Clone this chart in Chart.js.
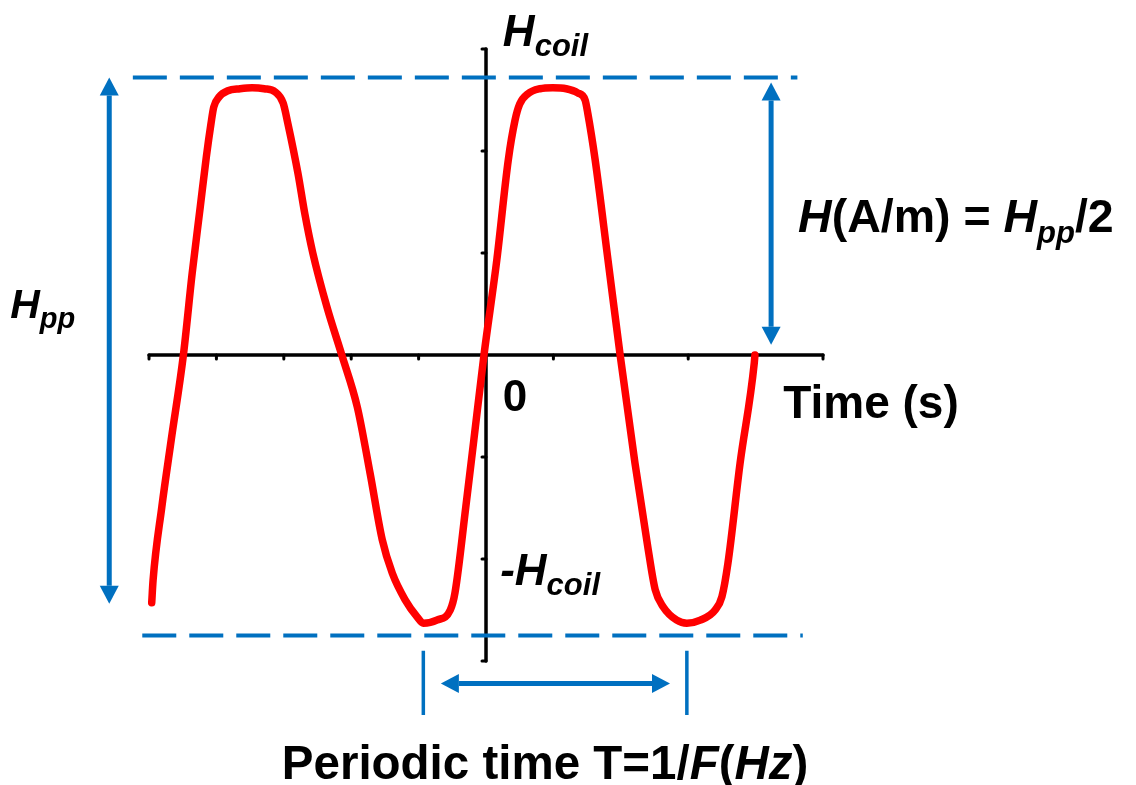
<!DOCTYPE html>
<html>
<head>
<meta charset="utf-8">
<title>Coil field waveform</title>
<script src="https://cdn.jsdelivr.net/npm/chart.js@4.4.1/dist/chart.umd.min.js"></script>
<style>
  html, body { margin: 0; padding: 0; background: #ffffff; }
  #wrap { width: 1136px; height: 785px; position: relative; }
</style>
</head>
<body>
<div id="wrap"><canvas id="chart"></canvas></div>
<script>
// time in tick units (one tick = one unit), field in tick units
const timeValues = [
  -4.96, -4.94, -4.81, -4.67, -4.49, -4.36, -4.24, -4.15, -4.08,
  -4.04, -3.96, -3.83, -3.65, -3.47, -3.29, -3.13, -3.01, -2.94, -2.79,
  -2.69, -2.57, -2.36, -2.14, -1.91, -1.72, -1.54, -1.39, -1.20, -1.02,
  -0.93, -0.73, -0.53, -0.46, -0.30, -0.18, -0.03, 0.16, 0.33,
  0.43, 0.50, 0.62, 0.80, 0.99, 1.19, 1.36, 1.47, 1.51, 1.62,
  1.81, 1.99, 2.21, 2.40, 2.51, 2.63, 2.83, 2.98, 3.18, 3.40,
  3.50, 3.59, 3.77, 3.98, 3.99
];
const fieldValues = [
  -2.43, -2.21, -1.49, -0.83, 0.00, 0.80, 1.45, 1.94, 2.27,
  2.43, 2.53, 2.59, 2.61, 2.62, 2.61, 2.58, 2.47, 2.27, 1.78,
  1.39, 1.00, 0.47, 0.00, -0.51, -1.16, -1.81, -2.14, -2.40, -2.57,
  -2.63, -2.60, -2.50, -2.33, -1.49, -0.83, 0.00, 0.93, 1.91,
  2.30, 2.46, 2.56, 2.61, 2.62, 2.61, 2.57, 2.50, 2.37, 1.91,
  0.93, 0.00, -1.06, -1.88, -2.30, -2.47, -2.60, -2.63, -2.60, -2.50,
  -2.37, -2.04, -1.06, -0.08, 0.00
];

const xTicks = [-5, -4, -3, -2, -1, 0, 1, 2, 3, 4, 5];
const yTicks = [-3, -2, -1, 0, 1, 2, 3];
const hppLevels = [2.72, -2.75];       // peak-to-peak guide lines
const periodMarks = [-0.93, 2.98];     // one period, trough to trough

const yTopLabel = 'H|coil';
const yBottomLabel = '-H|coil';
const originLabel = '0';
const xTitle = 'Time (s)';

const BLUE = '#0070c0';
const FONT = '"Liberation Sans", Arial, Helvetica, sans-serif';

// draws text made of runs: {t, it, sub}
function drawRuns(ctx, x, y, runs, size, subSize, subShift) {
  let cx = x;
  ctx.textBaseline = 'alphabetic';
  ctx.textAlign = 'left';
  runs.forEach(r => {
    const fs = r.sub ? subSize : size;
    ctx.font = (r.it ? 'italic ' : '') + 'bold ' + fs + 'px ' + FONT;
    ctx.fillText(r.t, cx, y + (r.sub ? subShift : 0));
    cx += ctx.measureText(r.t).width;
  });
}

function splitLabel(s) {
  const p = s.split('|');
  return [{ t: p[0], it: true }, { t: p[1], it: true, sub: true }];
}

function arrow(ctx, x1, y1, x2, y2) {
  const ang = Math.atan2(y2 - y1, x2 - x1);
  const hl = 18, hw = 9.5;
  ctx.strokeStyle = BLUE;
  ctx.fillStyle = BLUE;
  ctx.lineWidth = 5;
  ctx.beginPath();
  ctx.moveTo(x1 + Math.cos(ang) * hl, y1 + Math.sin(ang) * hl);
  ctx.lineTo(x2 - Math.cos(ang) * hl, y2 - Math.sin(ang) * hl);
  ctx.stroke();
  [[x1, y1, ang + Math.PI], [x2, y2, ang]].forEach(([tx, ty, a]) => {
    ctx.beginPath();
    ctx.moveTo(tx, ty);
    ctx.lineTo(tx - Math.cos(a) * hl - Math.sin(a) * hw, ty - Math.sin(a) * hl + Math.cos(a) * hw);
    ctx.lineTo(tx - Math.cos(a) * hl + Math.sin(a) * hw, ty - Math.sin(a) * hl - Math.cos(a) * hw);
    ctx.closePath();
    ctx.fill();
  });
}

const axesPlugin = {
  id: 'axesPlugin',
  beforeDatasetsDraw(chart) {
    const ctx = chart.ctx;
    const xs = chart.scales.x, ys = chart.scales.y;
    const x0 = xs.getPixelForValue(0), y0 = ys.getPixelForValue(0);
    ctx.save();
    ctx.strokeStyle = '#000';
    ctx.lineCap = 'round';
    ctx.lineWidth = 3.5;
    ctx.beginPath();
    ctx.moveTo(xs.getPixelForValue(xTicks[0]), y0);
    ctx.lineTo(xs.getPixelForValue(xTicks[xTicks.length - 1]), y0);
    ctx.moveTo(x0, ys.getPixelForValue(yTicks[0]));
    ctx.lineTo(x0, ys.getPixelForValue(yTicks[yTicks.length - 1]));
    ctx.stroke();
    ctx.lineWidth = 3;
    ctx.beginPath();
    xTicks.forEach(t => {
      if (t === 0) return;
      const px = xs.getPixelForValue(t);
      ctx.moveTo(px, y0);
      ctx.lineTo(px, y0 + 4);
    });
    yTicks.forEach(t => {
      if (t === 0) return;
      const py = ys.getPixelForValue(t);
      ctx.moveTo(x0, py);
      ctx.lineTo(x0 - 4, py);
    });
    ctx.stroke();
    ctx.restore();
  },
  afterDatasetsDraw(chart) {
    const ctx = chart.ctx;
    const xs = chart.scales.x, ys = chart.scales.y;
    const X = v => xs.getPixelForValue(v), Y = v => ys.getPixelForValue(v);
    ctx.save();

    // Hpp double arrow on the left, H amplitude arrow on the right
    arrow(ctx, X(-5.59), Y(hppLevels[0]), X(-5.59), Y(-2.44));
    arrow(ctx, X(4.23), Y(2.67), X(4.23), Y(0.10));

    // period markers and arrow
    ctx.strokeStyle = BLUE;
    ctx.lineWidth = 3.5;
    ctx.beginPath();
    periodMarks.forEach(t => {
      ctx.moveTo(X(t), Y(-2.9));
      ctx.lineTo(X(t), Y(-3.53));
    });
    ctx.stroke();
    arrow(ctx, X(-0.67), Y(-3.22), X(2.73), Y(-3.22));

    // texts
    ctx.fillStyle = '#000';
    drawRuns(ctx, X(0.25), Y(3.03), splitLabel(yTopLabel), 44, 31, 10);
    drawRuns(ctx, X(0.21), Y(-2.26), splitLabel(yBottomLabel), 44, 31, 10);
    drawRuns(ctx, X(0.25), Y(-0.55), [{ t: originLabel }], 44, 31, 0);
    drawRuns(ctx, X(4.41), Y(-0.62), [{ t: xTitle }], 46, 31, 0);
    drawRuns(ctx, X(-7.06), Y(0.36), [{ t: 'H', it: true }, { t: 'pp', it: true, sub: true }], 41, 29, 10);
    drawRuns(ctx, X(4.63), Y(1.21), [
      { t: 'H', it: true }, { t: '(A/m) = ' }, { t: 'H', it: true },
      { t: 'pp', it: true, sub: true }, { t: '/2' }
    ], 46.5, 31, 11);
    drawRuns(ctx, X(-3.03), Y(-4.16), [
      { t: 'Periodic time T=1/' }, { t: 'F', it: true }, { t: '(' },
      { t: 'Hz', it: true }, { t: ')' }
    ], 47.5, 31, 0);
    ctx.restore();
  }
};

const curve = timeValues.map((t, i) => ({ x: t, y: fieldValues[i] }));

const ctx = document.getElementById('chart').getContext('2d');
new Chart(ctx, {
  type: 'line',
  data: {
    datasets: [
      {
        data: curve,
        borderColor: '#ff0000',
        borderWidth: 7.5,
        pointRadius: 0,
        cubicInterpolationMode: 'monotone',
        borderCapStyle: 'round',
        borderJoinStyle: 'round',
        order: 0
      },
      {
        data: [{ x: -5.24, y: hppLevels[0] }, { x: 4.62, y: hppLevels[0] }],
        borderColor: BLUE,
        borderWidth: 4,
        borderDash: [34, 13],
        pointRadius: 0,
        order: 1
      },
      {
        data: [{ x: -5.10, y: hppLevels[1] }, { x: 4.70, y: hppLevels[1] }],
        borderColor: BLUE,
        borderWidth: 4,
        borderDash: [34, 13],
        pointRadius: 0,
        order: 1
      }
    ]
  },
  options: {
    animation: false,
    responsive: true,
    maintainAspectRatio: false,
    layout: { padding: 0 },
    plugins: { legend: { display: false }, tooltip: { enabled: false } },
    scales: {
      x: { type: 'linear', min: -7.211, max: 9.644, display: false },
      y: { type: 'linear', min: -4.216, max: 3.480, display: false }
    }
  },
  plugins: [axesPlugin]
});
</script>
</body>
</html>
